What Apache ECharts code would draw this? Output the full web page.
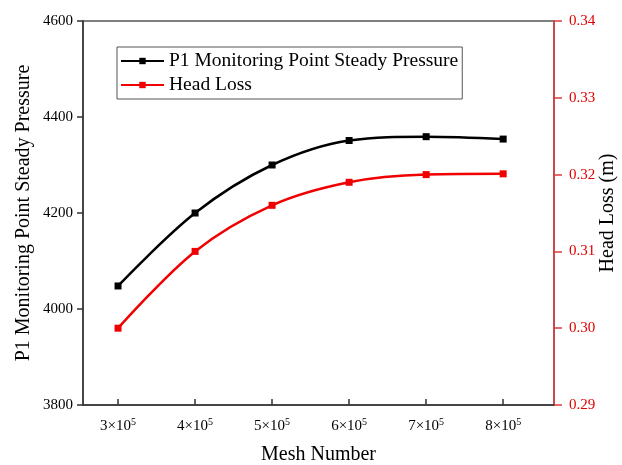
<!DOCTYPE html>
<html>
<head>
<meta charset="utf-8">
<script src="https://cdn.jsdelivr.net/npm/echarts@6/dist/echarts.min.js"></script>
<style>
  html, body { margin: 0; padding: 0; background: #fff; }
  #chart { width: 622px; height: 465px; }
</style>
</head>
<body>
<div id="chart"></div>
<script>
// mesh number, in units of 10^5
const meshNumbers = [3, 4, 5, 6, 7, 8];
const pressure = [4048, 4200, 4300, 4351, 4359, 4354];
const headLoss = [0.300, 0.310, 0.316, 0.319, 0.320, 0.3201];
const pressureTicks = [3800, 4000, 4200, 4400, 4600];
const headLossTicks = [0.29, 0.30, 0.31, 0.32, 0.33, 0.34];

const font = 'Liberation Serif, Times New Roman, serif';
const chart = echarts.init(document.getElementById('chart'));

chart.setOption({
  animation: false,
  textStyle: { fontFamily: font },
  grid: {
    left: 83, right: 68, top: 21, bottom: 60,
    outerBoundsMode: 'none',
    containLabel: false,
    show: true, borderColor: '#555', borderWidth: 1.5, backgroundColor: 'transparent'
  },
  legend: {
    orient: 'vertical',
    left: 117, top: 47,
    borderColor: '#555', borderWidth: 1,
    padding: [4, 4, 4, 3],
    itemGap: 4,
    itemWidth: 43, itemHeight: 8,
    textStyle: { fontFamily: font, fontSize: 19.5, color: '#000' },
    data: ['P1 Monitoring Point Steady Pressure', 'Head Loss']
  },
  xAxis: {
    type: 'value',
    min: 2.545, max: 8.66,
    name: 'Mesh Number',
    nameLocation: 'middle',
    nameGap: 40,
    nameTextStyle: { fontFamily: font, fontSize: 20, color: '#000' },
    axisLine: { lineStyle: { color: '#333', width: 1.5 } },
    axisTick: { inside: true, length: 6, customValues: meshNumbers, lineStyle: { color: '#333', width: 1.5 } },
    axisLabel: {
      customValues: meshNumbers,
      margin: 12,
      formatter: v => v + '×10{sup|5}',
      fontFamily: font, fontSize: 15, color: '#000',
      rich: { sup: { fontFamily: font, fontSize: 10, color: '#000', padding: [0, 0, 8, 0] } }
    },
    splitLine: { show: false }
  },
  yAxis: [
    {
      type: 'value',
      min: 3800, max: 4600, interval: 200,
      name: 'P1 Monitoring Point Steady Pressure',
      nameLocation: 'middle',
      nameMoveOverlap: false,
      nameGap: 49,
      nameTextStyle: { fontFamily: font, fontSize: 20, color: '#000' },
      axisLine: { show: true, lineStyle: { color: '#333', width: 1.5 } },
      axisTick: { show: true, length: 6, lineStyle: { color: '#333', width: 1.5 } },
      axisLabel: {
        margin: 10,
        customValues: pressureTicks,
        formatter: v => String(v),
        fontFamily: font, fontSize: 15, color: '#000'
      },
      splitLine: { show: false }
    },
    {
      type: 'value',
      min: 0.29, max: 0.34, interval: 0.01,
      position: 'right',
      name: 'Head Loss (m)',
      nameLocation: 'middle',
      nameMoveOverlap: false,
      nameRotate: 90,
      nameGap: 44,
      nameTextStyle: { fontFamily: font, fontSize: 20, color: '#000' },
      axisLine: { show: true, lineStyle: { color: '#e03a3a', width: 1.5 } },
      axisTick: { show: true, length: 8, lineStyle: { color: '#e03a3a', width: 1.5 } },
      axisLabel: {
        margin: 15,
        customValues: headLossTicks,
        formatter: v => v.toFixed(2),
        fontFamily: font, fontSize: 15, color: '#e00000'
      },
      splitLine: { show: false }
    }
  ],
  series: [
    {
      name: 'P1 Monitoring Point Steady Pressure',
      type: 'line',
      yAxisIndex: 0,
      smooth: 0.35,
      symbol: 'rect',
      symbolSize: 7,
      lineStyle: { color: '#000', width: 2.5 },
      itemStyle: { color: '#000' },
      data: meshNumbers.map((m, i) => [m, pressure[i]])
    },
    {
      name: 'Head Loss',
      type: 'line',
      yAxisIndex: 1,
      smooth: 0.35,
      symbol: 'rect',
      symbolSize: 7,
      lineStyle: { color: '#f00000', width: 2.5 },
      itemStyle: { color: '#f00000' },
      data: meshNumbers.map((m, i) => [m, headLoss[i]])
    }
  ]
});
</script>
</body>
</html>
